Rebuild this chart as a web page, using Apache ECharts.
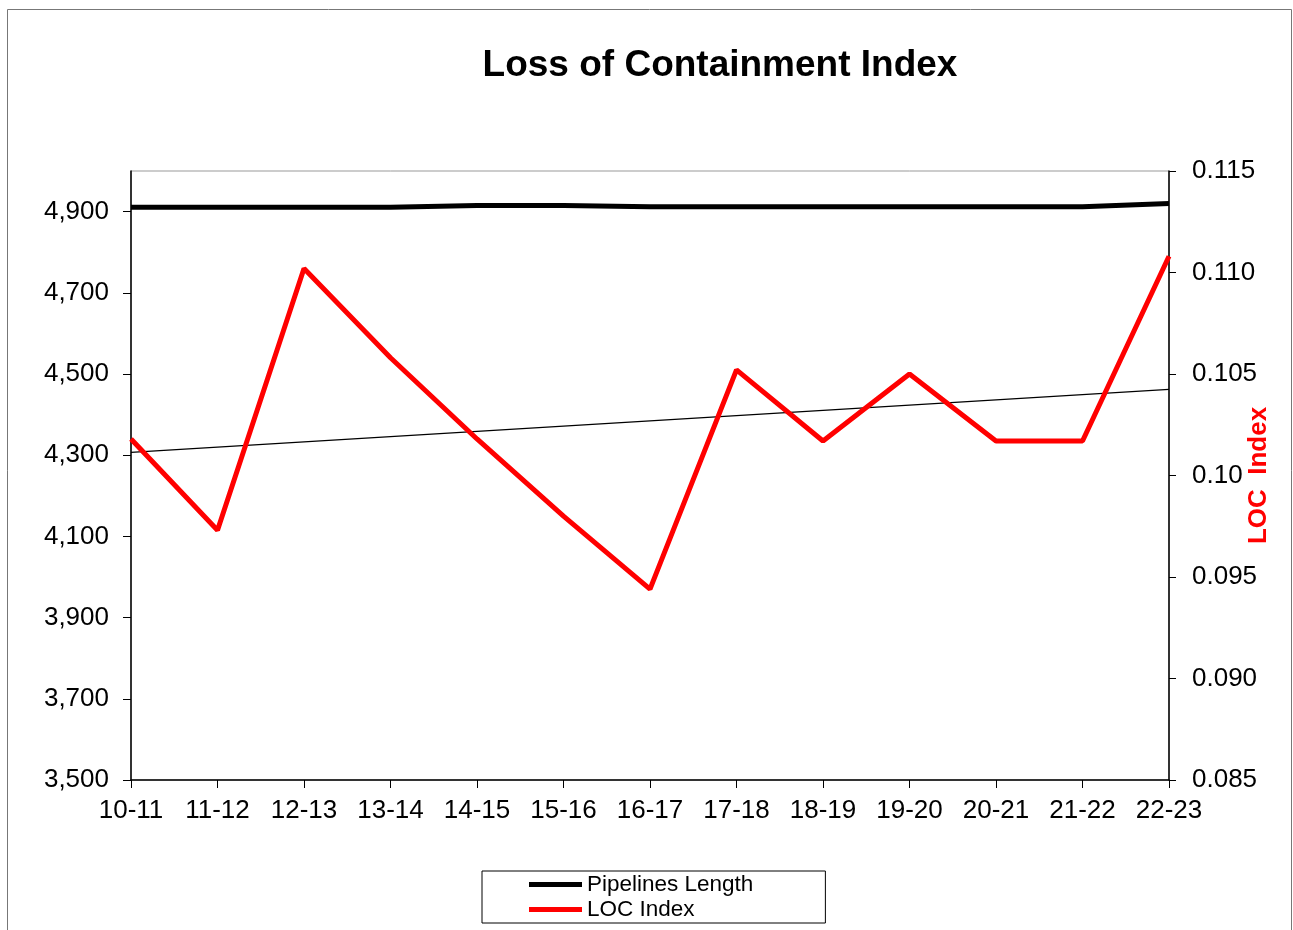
<!DOCTYPE html>
<html>
<head>
<meta charset="utf-8">
<title>Loss of Containment Index</title>
<script src="https://cdn.jsdelivr.net/npm/echarts@6/dist/echarts.min.js"></script>
<style>
  html, body { margin: 0; padding: 0; background: #fff; }
  #chart { width: 1293px; height: 930px; }
</style>
</head>
<body>
<div id="chart"></div>
<script>
// financial years
const years = ["10-11", "11-12", "12-13", "13-14", "14-15", "15-16", "16-17",
  "17-18", "18-19", "19-20", "20-21", "21-22", "22-23"];

// pipelines length (left axis)
const pipelinesLength = [4911, 4911, 4911, 4911, 4915, 4915, 4912,
  4912, 4912, 4912, 4912, 4912, 4920];

// LOC index (right axis)
const locIndex = [0.1018, 0.0973, 0.1102, 0.1058, 0.1018, 0.0980, 0.0944,
  0.1052, 0.1017, 0.1050, 0.1017, 0.1017, 0.1108];

// thin trend line, only the end points
const trendLine = [4307, null, null, null, null, null, null,
  null, null, null, null, null, 4462];

const leftTicks = [3500, 5000, 200];
const rightTicks = [0.085, 0.115, 0.005];

const chart = echarts.init(document.getElementById("chart"));
const font = "Arial, 'Liberation Sans', sans-serif";

chart.setOption({
  animation: false,
  backgroundColor: "#fff",
  textStyle: { fontFamily: font },
  title: {
    text: "Loss of Containment Index",
    left: 720,
    top: 47,
    padding: 0,
    textAlign: "center",
    textStyle: { fontFamily: font, fontSize: 37, fontWeight: "bold", color: "#000" },
  },
  graphic: [
    {
      type: "rect",
      silent: true,
      shape: { x: 7.5, y: 9.5, width: 1284, height: 940 },
      style: { fill: "none", stroke: "#777", lineWidth: 1 },
    },
  ],
  legend: {
    orient: "vertical",
    left: 482,
    top: 871,
    padding: [2, 72, 2, 47],
    itemGap: 2,
    itemWidth: 53,
    itemHeight: 5,
    borderColor: "#000",
    borderWidth: 1,
    borderRadius: 0,
    data: [
      { name: "Pipelines Length", icon: "rect" },
      { name: "LOC Index", icon: "rect" },
    ],
    textStyle: { fontFamily: font, fontSize: 22.5, color: "#000", padding: [0, 0, 0, 0] },
  },
  grid: {
    left: 131,
    right: 124,
    top: 171,
    bottom: 150,
    outerBoundsMode: "none",
    containLabel: false,
    show: true,
    borderColor: "#999",
    borderWidth: 1,
  },
  xAxis: {
    type: "category",
    data: years,
    boundaryGap: false,
    axisLine: { lineStyle: { color: "#000", width: 1.5 } },
    axisTick: { show: true, length: 8, inside: false, alignWithLabel: true, lineStyle: { color: "#000" } },
    axisLabel: { fontFamily: font, fontSize: 26, color: "#000", margin: 18, interval: 0 },
    splitLine: { show: false },
  },
  yAxis: [
    {
      type: "value",
      position: "left",
      min: leftTicks[0],
      max: leftTicks[1],
      interval: leftTicks[2],
      axisLine: { show: true, lineStyle: { color: "#000", width: 1.5 } },
      axisTick: { show: true, length: 8, lineStyle: { color: "#000" } },
      axisLabel: {
        fontFamily: font, fontSize: 26, color: "#000", margin: 22,
        showMaxLabel: false,
        formatter: (v) => (v >= 5000 ? "" : v.toLocaleString("en-US")),
      },
      splitLine: { show: false },
    },
    {
      type: "value",
      position: "right",
      min: rightTicks[0],
      max: rightTicks[1],
      interval: rightTicks[2],
      name: "LOC  Index",
      nameLocation: "middle",
      nameGap: 64,
      nameMoveOverlap: false,
      nameRotate: 90,
      nameTextStyle: {
        fontFamily: font, fontSize: 26, fontWeight: "bold", color: "#ff0000",
        padding: [13, 4, 0, 4],
      },
      axisLine: { show: true, lineStyle: { color: "#000", width: 1.5 } },
      axisTick: { show: true, length: 7, lineStyle: { color: "#000" } },
      axisLabel: {
        fontFamily: font, fontSize: 26, color: "#000", margin: 23,
        // the axis title hides the end of the 0.100 label in the original
        formatter: (v) => (Math.abs(v - 0.1) < 1e-9 ? "0.10" : v.toFixed(3)),
      },
      splitLine: { show: false },
    },
  ],
  series: [
    {
      name: "Pipelines Length",
      type: "line",
      yAxisIndex: 0,
      data: pipelinesLength,
      symbol: "none",
      color: "#000",
      lineStyle: { color: "#000", width: 5 },
      z: 3,
    },
    {
      name: "LOC Index",
      type: "line",
      yAxisIndex: 1,
      data: locIndex,
      symbol: "none",
      color: "#ff0000",
      lineStyle: { color: "#ff0000", width: 5 },
      z: 4,
    },
    {
      name: "trend",
      type: "line",
      yAxisIndex: 0,
      data: trendLine,
      connectNulls: true,
      symbol: "none",
      lineStyle: { color: "#000", width: 1.2 },
      silent: true,
      z: 2,
    },
  ],
});
</script>
</body>
</html>
